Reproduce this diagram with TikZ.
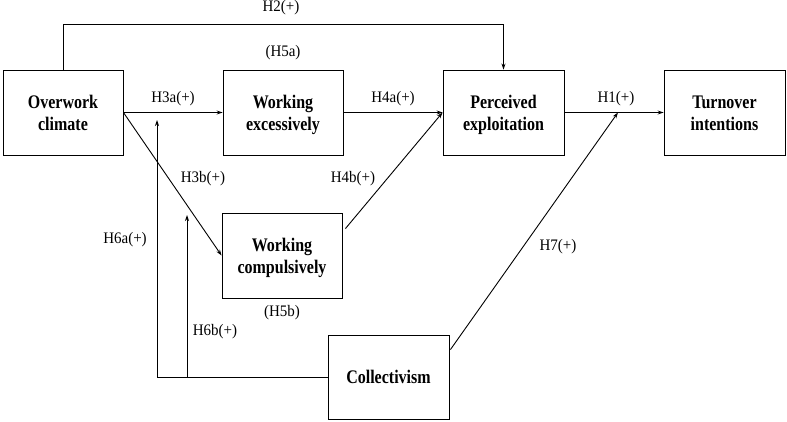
\documentclass[tikz,border=0pt]{standalone}
\usepackage{graphicx}
\usepackage{fontspec}
\setmainfont{Liberation Serif}
\usetikzlibrary{arrows.meta,calc}
\newcommand\boxtext[1]{\raisebox{-2.5pt}[\height][\depth]{\scalebox{1}[1.2]{\begin{tabular}{@{}c@{}}#1\end{tabular}}}}
\newcommand\lbltext[1]{\scalebox{1}[1.07]{#1}}
\begin{document}
\begin{tikzpicture}[x=1pt,y=-1pt,
  box/.style={draw, line width=0.9pt, minimum width=120pt, minimum height=85pt, inner sep=0pt,
    font=\fontsize{16}{18}\selectfont\bfseries, align=center},
  lbl/.style={font=\fontsize{15}{18}\selectfont, inner sep=0pt},
  arr/.style={-{Stealth[length=6pt,width=4pt]}, line width=0.9pt},
  ln/.style={line width=0.9pt}]
\useasboundingbox (0,0) rectangle (787,422);

\node[box] (oc) at (63,112.5) {\boxtext{Overwork\\climate}};
\node[box] (we) at (283,112.5) {\boxtext{Working\\excessively}};
\node[box, minimum width=121pt] (pe) at (503.5,112.5) {\boxtext{Perceived\\exploitation}};
\node[box, minimum width=121pt] (ti) at (724.5,112.5) {\boxtext{Turnover\\intentions}};
\node[box] (wc) at (282,255.5) {\boxtext{Working\\compulsively}};
\node[box, minimum width=121pt, minimum height=84pt] (co) at (388.5,377) {\boxtext{Collectivism}};

\coordinate (h1m) at ($(pe.east)!0.54!(ti.west)$);
\coordinate (t6a) at (157,120);
\coordinate (c6b) at (187,377);
\coordinate (t6b) at (187,215);
\coordinate (s4b) at ($(wc.north east)+(3,16)$);
\coordinate (s7) at ($(co.north east)+(1,15)$);

\draw[arr] (oc.north) -- ++(0,-45) -| (pe.north);
\draw[arr] (oc.east) -- (we.west);
\draw[arr] (we.east) -- (pe.west);
\draw[arr] (pe.east) -- (ti.west);
\draw[arr] (oc.east) -- (wc.west);
\draw[arr] (s4b) -- (pe.west);
\draw[arr] (s7) -- (h1m);
\draw[arr] (co.west) -| (t6a);
\draw[arr] (c6b) -- (t6b);

\node[lbl] (l2) at (281,8) {\lbltext{H2(+)}};
\node[lbl] (l5a) at (283,53) {\lbltext{(H5a)}};
\node[lbl] (l3a) at (173,99) {\lbltext{H3a(+)}};
\node[lbl] (l4a) at (393,99) {\lbltext{H4a(+)}};
\node[lbl] (l1) at (616,99) {\lbltext{H1(+)}};
\node[lbl] (l3b) at (203,179) {\lbltext{H3b(+)}};
\node[lbl] (l4b) at (353,179) {\lbltext{H4b(+)}};
\node[lbl] (l6a) at (125,240) {\lbltext{H6a(+)}};
\node[lbl] (l5b) at (282,313) {\lbltext{(H5b)}};
\node[lbl] (l6b) at (215,332) {\lbltext{H6b(+)}};
\node[lbl] (l7) at (558,247) {\lbltext{H7(+)}};
\end{tikzpicture}
\end{document}
